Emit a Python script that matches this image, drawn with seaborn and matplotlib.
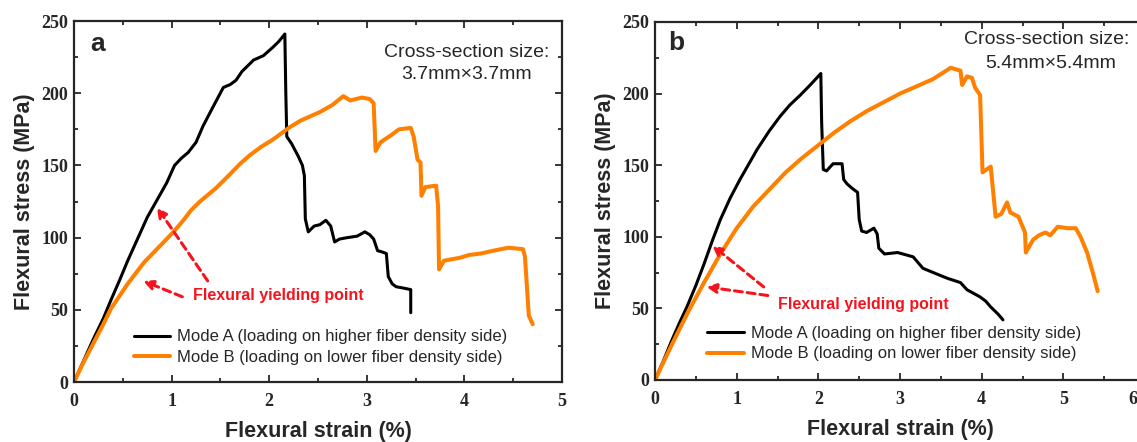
import pandas as pd
import seaborn as sns
import matplotlib
matplotlib.use("Agg")
import matplotlib.pyplot as plt
from matplotlib.ticker import MultipleLocator, FixedFormatter, FixedLocator

# ---- data (strain %, stress MPa) ----
a_modeA_x = [0, 0.1, 0.2, 0.3, 0.38, 0.47, 0.55, 0.65, 0.75, 0.85, 0.95, 1.03, 1.10, 1.17, 1.25, 1.32,
             1.42, 1.53, 1.60, 1.66, 1.72, 1.84, 1.94, 2.04, 2.10, 2.16, 2.17, 2.18, 2.23, 2.30, 2.34,
             2.36, 2.37, 2.40, 2.46, 2.52, 2.58, 2.63, 2.67, 2.72, 2.80, 2.90, 2.98, 3.03, 3.07, 3.11,
             3.16, 3.20, 3.22, 3.26, 3.30, 3.38, 3.45, 3.45]
a_modeA_y = [0, 15, 30, 44, 57, 71, 84, 99, 114, 126, 138, 150, 155, 159, 166, 177,
             190, 204, 206, 209, 215, 223, 226, 232, 236, 241, 200, 170, 165, 156, 150,
             143, 113, 104, 108, 109, 112, 108, 97, 99, 100, 101, 104, 102, 99, 91,
             90, 89, 73, 68, 66, 65, 64, 48]
a_modeB_x = [0, 0.1, 0.2, 0.3, 0.38, 0.47, 0.55, 0.64, 0.72, 0.82, 0.92, 1.02, 1.12, 1.20, 1.29,
             1.45, 1.57, 1.70, 1.80, 1.92, 2.04, 2.20, 2.32, 2.52, 2.65, 2.76, 2.83, 2.95, 3.03,
             3.07, 3.09, 3.14, 3.25, 3.33, 3.45, 3.48, 3.52, 3.55, 3.56, 3.60, 3.71, 3.73, 3.74,
             3.79, 3.95, 4.05, 4.17, 4.30, 4.45, 4.60, 4.62, 4.66, 4.70]
a_modeB_y = [0, 14, 27, 40, 51, 60, 68, 76, 83, 90, 97, 104, 112, 119, 125,
             134, 142, 151, 157, 163, 168, 176, 181, 187, 192, 198, 195, 197, 196,
             193, 160, 166, 171, 175, 176, 170, 154, 152, 129, 135, 136, 122, 78,
             84, 86, 88, 89, 91, 93, 92, 87, 46, 40]

b_modeA_x = [0, 0.1, 0.2, 0.3, 0.39, 0.5, 0.6, 0.7, 0.80, 0.92, 1.04, 1.15, 1.25, 1.40, 1.53, 1.65,
             1.78, 1.90, 2.03, 2.04, 2.06, 2.10, 2.18, 2.29, 2.31, 2.35, 2.41, 2.48, 2.50, 2.53,
             2.59, 2.68, 2.72, 2.74, 2.81, 2.97, 3.16, 3.28, 3.45, 3.58, 3.74, 3.82, 3.98, 4.05,
             4.11, 4.20, 4.26]
b_modeA_y = [0, 13, 27, 40, 51, 66, 81, 97, 112, 127, 140, 151, 161, 174, 184, 192,
             199, 206, 214, 180, 147, 146, 151, 151, 140, 137, 134, 131, 112, 104,
             103, 106, 102, 92, 88, 89, 86, 78, 74, 71, 68, 63, 58, 55,
             51, 46, 42]
b_modeB_x = [0, 0.2, 0.4, 0.6, 0.8, 1.0, 1.2, 1.4, 1.6, 1.8, 2.0, 2.2, 2.4, 2.6, 2.8, 3.0,
             3.2, 3.4, 3.62, 3.74, 3.76, 3.82, 3.88, 3.92, 3.98, 4.01, 4.06, 4.11, 4.17,
             4.24, 4.31, 4.35, 4.45, 4.53, 4.54, 4.63, 4.70, 4.78, 4.84, 4.93, 5.05, 5.15, 5.21,
             5.29, 5.36, 5.42]
b_modeB_y = [0, 24, 47, 68, 88, 106, 121, 133, 145, 155, 164, 173, 181, 188, 194, 200,
             205, 210, 218, 216, 206, 212, 211, 204, 199, 145, 147, 149, 114,
             116, 124, 117, 114, 103, 89, 98, 101, 103, 101, 107, 106, 106, 100,
             89, 75, 62]

mode_labels = ["Mode A (loading on higher fiber density side)",
               "Mode B (loading on lower fiber density side)"]
panel_letters = ["a", "b"]
section_sizes = ["3.7mm\u00d73.7mm", "5.4mm\u00d75.4mm"]
note = "Flexural yielding point"

# arrow (tail -> head) pairs per panel, in data units
arrows_a = [((1.37, 70), (0.85, 121)), ((1.11, 59), (0.71, 70))]
arrows_b = [((1.33, 65), (0.70, 94)), ((1.38, 59), (0.63, 65))]

sns.set_style("ticks")
plt.rcParams['font.family'] = ['Liberation Sans', 'DejaVu Sans']

fig = plt.figure(figsize=(11.37, 4.42), dpi=100)
ax_a = fig.add_axes([0.0651, 0.1357, 0.4292, 0.8167])
ax_b = fig.add_axes([0.5761, 0.1403, 0.4310, 0.8100])

orange = "#ff8000"
red = "#f5141e"
tick_font = dict(family="Liberation Serif", weight="bold", size=13)

panels = [
    (ax_a, a_modeA_x, a_modeA_y, a_modeB_x, a_modeB_y, 5, arrows_a, (0.24, 234), (4.02, 228.5), (4.02, 213),
     (1.22, 60), (0.61, 24)),
    (ax_b, b_modeA_x, b_modeA_y, b_modeB_x, b_modeB_y, 6, arrows_b, (0.26, 235), (4.80, 238), (4.84, 221),
     (1.51, 52.5), (0.64, 25.5)),
]

for i, (ax, ax_x, ax_y, bx, by, xmax, arrows, let_pos, t1, t2, note_pos, leg_pos) in enumerate(panels):
    dA = pd.DataFrame({"strain": ax_x, "stress": ax_y})
    dB = pd.DataFrame({"strain": bx, "stress": by})
    sns.lineplot(data=dA, x="strain", y="stress", sort=False, estimator=None, ax=ax,
                 color="black", lw=2.2, label=mode_labels[0])
    sns.lineplot(data=dB, x="strain", y="stress", sort=False, estimator=None, ax=ax,
                 color=orange, lw=2.9, label=mode_labels[1])

    ax.set_xlim(0, xmax)
    ax.set_ylim(0, 250)
    ax.xaxis.set_minor_locator(MultipleLocator(0.5))
    ax.yaxis.set_major_locator(MultipleLocator(50))
    ax.yaxis.set_minor_locator(MultipleLocator(25))
    ax.tick_params(which="both", direction="in", top=True, right=True, width=1.3)
    ax.tick_params(which="major", length=5)
    ax.tick_params(axis="x", which="major", pad=8)
    ax.tick_params(axis="y", which="major", pad=4)
    ax.tick_params(which="minor", length=3)
    for s in ax.spines.values():
        s.set_linewidth(1.6)

    ticks = list(range(xmax + 1))
    labels = [str(t) for t in ticks]
    if xmax == 6:
        # the "6" sits on the figure edge; drawn nudged inward below
        labels[-1] = ""
    ax.xaxis.set_major_locator(FixedLocator(ticks))
    ax.xaxis.set_major_formatter(FixedFormatter(labels))
    for lab in ax.get_xticklabels() + ax.get_yticklabels():
        lab.set_fontfamily(tick_font["family"])
        lab.set_fontweight(tick_font["weight"])
        lab.set_fontsize(tick_font["size"])
    if xmax == 6:
        ax.annotate("6", xy=(6, 0), xycoords="data", xytext=(-9, -8), textcoords="offset points",
                    ha="center", va="top", fontfamily=tick_font["family"],
                    fontweight=tick_font["weight"], fontsize=tick_font["size"], annotation_clip=False)

    ax.set_xlabel("Flexural strain (%)", fontsize=15.5, fontweight="bold", labelpad=8)
    ax.set_ylabel("Flexural stress (MPa)", fontsize=15.5, fontweight="bold", labelpad=5)

    ax.text(let_pos[0], let_pos[1], panel_letters[i], fontsize=19, fontweight="bold",
            ha="center", va="center")
    ax.text(t1[0], t1[1], "Cross-section size:", fontsize=14, ha="center", va="center")
    ax.text(t2[0], t2[1], section_sizes[i], fontsize=14, ha="center", va="center")
    ax.text(note_pos[0], note_pos[1], note, fontsize=11.5, fontweight="bold", color=red,
            ha="left", va="center")
    for tail, head in arrows:
        ax.annotate("", xy=head, xytext=tail,
                    arrowprops=dict(arrowstyle="-|>", color=red, lw=2.2, linestyle=(0, (2.6, 1.6)),
                                    mutation_scale=14, shrinkA=0, shrinkB=0))

    ax.legend(loc="center left", bbox_to_anchor=leg_pos, bbox_transform=ax.transData,
              frameon=False, fontsize=12, handlelength=2.2, handletextpad=0.4,
              labelspacing=0.35, borderpad=0, borderaxespad=0)

fig.savefig("out.png", dpi=100)
